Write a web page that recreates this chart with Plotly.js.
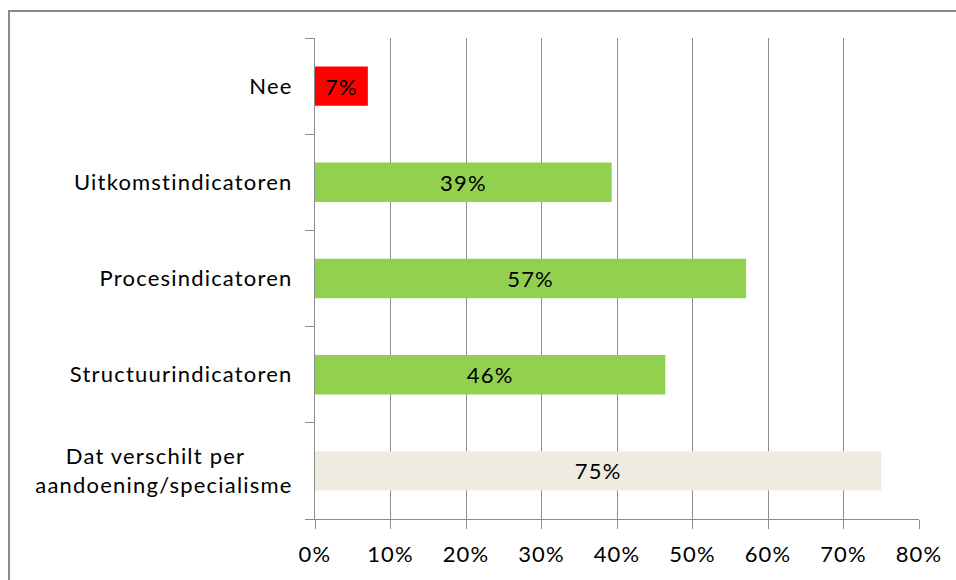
<!DOCTYPE html>
<html>
<head>
<meta charset="utf-8">
<script src="https://cdn.plot.ly/plotly-3.0.1.min.js"></script>
<style>
html,body{margin:0;padding:0;background:#fff;}
#chart{width:956px;height:580px;}
#chart text{letter-spacing:1.2px;}
</style>
</head>
<body>
<div id="chart"></div>
<script>
const categories = ["Nee", "Uitkomstindicatoren", "Procesindicatoren", "Structuurindicatoren", "Dat verschilt per aandoening/specialisme"];
const tickLabels = ["Nee", "Uitkomstindicatoren", "Procesindicatoren", "Structuurindicatoren", "Dat verschilt per\u00a0\u00a0\u00a0\u00a0\u00a0\u00a0\u00a0<br>aandoening/specialisme"];
const values = [0.07, 0.393, 0.571, 0.464, 0.75];
const barColors = ["#FF0000", "#92D050", "#92D050", "#92D050", "#EEECE1"];
const xTickVals = [0, 0.1, 0.2, 0.3, 0.4, 0.5, 0.6, 0.7, 0.8];
const xTickText = ["0%", "10%", "20%", "30%", "40%", "50%", "60%", "70%", "80%"];

const FONT = "Lato, 'Open Sans', sans-serif";
const FS = 22;

const trace = {
  type: "bar",
  orientation: "h",
  y: categories,
  x: values,
  marker: {color: barColors, line: {width: 0}},
  text: values.map(v => Math.round(v * 100) + "%"),
  textposition: "inside",
  insidetextanchor: "middle",
  constraintext: "none",
  textfont: {family: FONT, size: FS, color: "#000"},
  hoverinfo: "none"
};

const layout = {
  width: 956,
  height: 580,
  margin: {l: 315, r: 37, t: 38, b: 61},
  paper_bgcolor: "#fff",
  plot_bgcolor: "#fff",
  bargap: 0.59,
  showlegend: false,
  font: {family: FONT, size: FS, color: "#000"},
  xaxis: {
    range: [0, 0.8],
    tickvals: xTickVals,
    ticktext: xTickText,
    showgrid: true,
    gridcolor: "#8c8c8c",
    gridwidth: 1,
    showline: true,
    linecolor: "#8c8c8c",
    linewidth: 1,
    ticks: "outside",
    ticklen: 9,
    tickcolor: "#8c8c8c",
    ticklabelstandoff: 7,
    zeroline: false,
    fixedrange: true,
    tickfont: {family: FONT, size: FS, color: "#000"}
  },
  yaxis: {
    type: "category",
    autorange: "reversed",
    tickvals: categories,
    ticktext: tickLabels,
    tickson: "boundaries",
    ticks: "outside",
    ticklen: 9,
    tickcolor: "#8c8c8c",
    showgrid: false,
    showline: true,
    linecolor: "#8c8c8c",
    linewidth: 1,
    ticklabelstandoff: 17,
    fixedrange: true,
    tickfont: {family: FONT, size: FS, color: "#000"}
  },
  shapes: [{
    type: "rect", xref: "paper", yref: "paper",
    x0: (9 - 315) / 604, x1: (990 - 315) / 604,
    y0: -0.3, y1: (519 - 11) / 481,
    line: {color: "#8c8c8c", width: 2},
    fillcolor: "rgba(0,0,0,0)",
    layer: "below"
  }]
};

Plotly.newPlot("chart", [trace], layout, {displayModeBar: false, staticPlot: true});
</script>
</body>
</html>
